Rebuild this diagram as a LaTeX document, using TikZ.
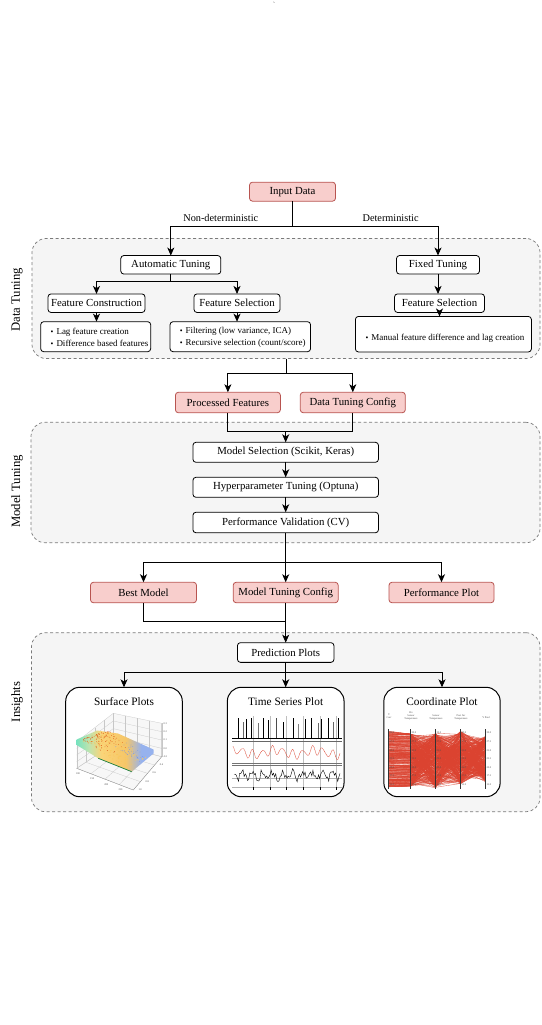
\documentclass[tikz,border=0pt]{standalone}
\usepackage{fontspec}
\setmainfont{Liberation Serif}
\usetikzlibrary{arrows.meta,calc}
\definecolor{pinkfill}{HTML}{F8CECC}
\definecolor{pinkline}{HTML}{B85450}
\definecolor{groupfill}{HTML}{F5F5F5}
\definecolor{groupline}{HTML}{7A7A7A}
\definecolor{plotred}{HTML}{DB4330}
\definecolor{dotorange}{RGB}{225,100,30}
\definecolor{speckle}{RGB}{250,200,90}
\definecolor{bluespk}{RGB}{120,150,230}
\definecolor{edgegreen}{RGB}{25,125,60}
\definecolor{surfA}{RGB}{120,226,190}
\definecolor{surfB}{RGB}{190,228,175}
\definecolor{surfC}{RGB}{250,212,120}
\definecolor{surfD}{RGB}{246,198,104}
\definecolor{surfE}{RGB}{150,178,238}
% the 25bp..75bp band of a declared shading spans the shaded path
\pgfdeclarehorizontalshading{surfshade}{100bp}{color(0bp)=(surfA); color(25bp)=(surfA);
  color(33bp)=(surfB); color(41bp)=(surfC); color(57bp)=(surfD); color(67bp)=(surfE);
  color(100bp)=(surfE)}
\newcommand{\itemdot}{{\fontsize{8}{8}\selectfont\textbullet}\hspace{3pt}}
\begin{document}
\begin{tikzpicture}[x=1pt,y=-1pt,
  every node/.style={inner sep=0pt,outer sep=0pt},
  box/.style={draw=black,fill=white,rounded corners=3pt,line width=0.8pt,
    font=\fontsize{10.8}{12}\selectfont},
  pinkbox/.style={box,draw=pinkline,fill=pinkfill},
  group/.style={draw=groupline,fill=groupfill,dash pattern=on 3pt off 2.5pt,
    rounded corners=14pt,line width=0.7pt},
  sidelabel/.style={rotate=90,font=\fontsize{12.7}{14}\selectfont},
  edgelabel/.style={font=\fontsize{10.3}{12}\selectfont},
  bullettext/.style={align=left,anchor=west,font=\fontsize{9}{12.3}\selectfont},
  plotbox/.style={draw=black,fill=white,rounded corners=14pt,line width=1pt},
  plottitle/.style={font=\fontsize{11.3}{13}\selectfont},
  conn/.style={line width=0.85pt},
  arr/.style={conn,-{Stealth[length=8pt,width=7pt,inset=2.2pt]}},
  tiny/.style={font=\fontsize{2.6}{3}\selectfont,text=black!70},
  gridln/.style={black!22,line width=0.25pt}]

\useasboundingbox (0,0) rectangle (541,1025);
\fill[white] (0,0) rectangle (541,1025);
\node[font=\fontsize{6}{6}\selectfont] (grave) at (274,4) {\textasciigrave};

% ---- stage containers ----
\node[group,minimum width=508pt,minimum height=120pt] (dt) at (286,298.5) {};
\node[group,minimum width=509pt,minimum height=120.4pt] (mt) at (285.5,482.5) {};
\node[group,minimum width=508.5pt,minimum height=179pt] (ins) at (285.75,722.2) {};
\node[sidelabel] (dtl) at (17,300) {Data Tuning};
\node[sidelabel] (mtl) at (17,491.5) {Model Tuning};
\node[sidelabel] (insl) at (17,702) {Insights};

% ---- data tuning ----
\node[pinkbox,minimum width=86pt,minimum height=19pt] (inp) at (292.5,191.7) {Input Data};
\node[edgelabel] (lnd) at (220.8,218.3) {Non-deterministic};
\node[edgelabel] (ldet) at (390.6,218.3) {Deterministic};
\node[box,minimum width=100pt,minimum height=18.5pt] (auto) at (170.8,264.8) {Automatic Tuning};
\node[box,minimum width=83pt,minimum height=18.5pt] (fixed) at (438,264.8) {Fixed Tuning};
\node[box,minimum width=97pt,minimum height=18.5pt] (fc) at (96.5,303.2) {Feature Construction};
\node[box,minimum width=86pt,minimum height=18.5pt] (fsa) at (237,303.2) {Feature Selection};
\node[box,minimum width=90pt,minimum height=18.5pt] (fsf) at (439.5,303.2) {Feature Selection};
\node[box,minimum width=110pt,minimum height=30pt] (b1) at (95.7,336.7) {};
\node[bullettext] (b1t) at ($(b1.west)+(10,0.4)$)
  {\itemdot Lag feature creation\\\itemdot Difference based features};
\node[box,minimum width=140.5pt,minimum height=30pt] (b2) at (240.3,336.7) {};
\node[bullettext] (b2t) at ($(b2.west)+(9.7,0.4)$)
  {\itemdot Filtering (low variance, ICA)\\\itemdot Recursive selection (count/score)};
\node[box,minimum width=176pt,minimum height=35.5pt] (b3) at (443.4,334.2) {};
\node[bullettext] (b3t) at ($(b3.west)+(10.1,4.1)$)
  {\itemdot Manual feature difference and lag creation};

% ---- model tuning ----
\node[pinkbox,minimum width=105pt,minimum height=20.5pt] (pf) at (227.9,402.5) {Processed Features};
\node[pinkbox,minimum width=105pt,minimum height=20.5pt] (dtc) at (352.8,402.5) {Data Tuning Config};
\node[box,minimum width=185.5pt,minimum height=20pt] (ms) at (285.7,452.3) {Model Selection (Scikit, Keras)};
\node[box,minimum width=185.5pt,minimum height=20pt] (ht) at (285.7,487.3) {Hyperparameter Tuning (Optuna)};
\node[box,minimum width=185.5pt,minimum height=20.5pt] (pv) at (285.7,522.5) {Performance Validation (CV)};

% ---- outputs ----
\node[pinkbox,minimum width=106pt,minimum height=20.5pt] (bm) at (143.5,592.5) {Best Model};
\node[pinkbox,minimum width=105pt,minimum height=20.5pt] (mtc) at (285.7,592.5) {Model Tuning Config};
\node[pinkbox,minimum width=105pt,minimum height=20.5pt] (pp) at (441.5,592.5) {Performance Plot};

% ---- insights ----
\node[box,minimum width=96.5pt,minimum height=19.7pt] (pred) at (285.7,652.5) {Prediction Plots};
\node[plotbox,minimum width=116.6pt,minimum height=109.4pt] (surf) at (124,742) {};
\node[plotbox,minimum width=116.7pt,minimum height=109.4pt] (ts) at (285.7,742) {};
\node[plotbox,minimum width=116.3pt,minimum height=109.4pt] (coord) at (442,742) {};
\node[plottitle] (surft) at (124,701.9) {Surface Plots};
\node[plottitle] (tst) at (285.7,701.9) {Time Series Plot};
\node[plottitle] (coordt) at (442,701.9) {Coordinate Plot};

% ---- connectors ----
\coordinate (s1) at (292.5,226.7);
\draw[conn] (inp.south) -- (s1);
\draw[arr] (s1) -| (auto.north);
\draw[arr] (s1) -| (fixed.north);
\coordinate (s2) at (170.8,281.7);
\draw[conn] (auto.south) -- (s2);
\draw[arr] (s2) -| (fc.north);
\draw[arr] (s2) -| (fsa.north);
\draw[arr] (fixed.south) -- (fixed.south |- fsf.north);
\draw[arr] (fc.south) -- (fc.south |- b1.north);
\draw[arr] (fsa.south) -- (fsa.south |- b2.north);
\draw[arr] (fsf.south) -- (fsf.south |- b3.north);

\coordinate (s3) at (286,373);
\draw[conn] (dt.south) -- (s3);
\draw[arr] (s3) -| (pf.north);
\draw[arr] (s3) -| (dtc.north);
\coordinate (m1) at (285.7,431.7);
\draw[conn] (pf.south) |- (m1);
\draw[conn] (dtc.south) |- (m1);
\draw[arr] (m1) -- (ms.north);
\draw[arr] (ms.south) -- (ht.north);
\draw[arr] (ht.south) -- (pv.north);

\coordinate (s4) at (285.7,562.3);
\draw[conn] (pv.south) -- (s4);
\draw[arr] (s4) -| (bm.north);
\draw[arr] (s4) -- (mtc.north);
\draw[arr] (s4) -| (pp.north);
\coordinate (m2) at (285.7,621.7);
\draw[conn] (bm.south) |- (m2);
\draw[arr] (mtc.south) -- (pred.north);

\coordinate (s5) at (285.7,672.3);
\draw[conn] (pred.south) -- (s5);
\draw[arr] (s5) -| (surf.north);
\draw[arr] (s5) -- (ts.north);
\draw[arr] (s5) -| (coord.north);

\pgfmathsetseed{11}

% ---- 3D surface thumbnail ----
\begin{scope}
  \coordinate (pA) at (76.7,741.7);
  \coordinate (pB) at (113.3,713.3);
  \coordinate (pC) at (161.7,723.3);
  \coordinate (pD) at (161.7,756.7);
  \coordinate (pE) at (133.3,790);
  \coordinate (pF) at (76.7,768.3);
  \coordinate (pG) at (113.3,744);
  \fill[black!3] (pA) -- (pB) -- (pC) -- (pD) -- (pE) -- (pF) -- cycle;
  \foreach \t in {0,0.25,0.5,0.75,1}{
    \draw[gridln] ($(pA)!\t!(pF)$) -- ($(pB)!\t!(pG)$);
    \draw[gridln] ($(pA)!\t!(pB)$) -- ($(pF)!\t!(pG)$);
    \draw[gridln] ($(pB)!\t!(pG)$) -- ($(pC)!\t!(pD)$);
    \draw[gridln] ($(pB)!\t!(pC)$) -- ($(pG)!\t!(pD)$);
    \draw[gridln] ($(pF)!\t!(pG)$) -- ($(pE)!\t!(pD)$);
    \draw[gridln] ($(pF)!\t!(pE)$) -- ($(pG)!\t!(pD)$);
  }
  \draw[black!45,line width=0.3pt] (pF) -- (pE) -- (pD) -- (pC);
  \shade[shading=surfshade]
    (76.7,739.5) -- (97,730.5) -- (118,733.5) -- (153.5,749.5) -- (153.5,753.5)
    -- (131.7,771.7) -- (98.3,758.3) -- (76.7,745) -- cycle;
  \foreach \i in {1,...,130}{
    \pgfmathsetmacro\uu{0.1+0.85*rnd}
    \pgfmathsetmacro\vv{0.85*rnd+0.05}
    \pgfmathsetmacro\px{77+\uu*33+\vv*51+\uu*\vv*(-7.5)}
    \pgfmathsetmacro\py{741-\uu*11+\vv*30+\uu*\vv*(1)}
    \fill[speckle] (\px,\py) circle (0.5);
  }
  \foreach \i in {1,...,35}{
    \pgfmathsetmacro\uu{0.6+0.4*rnd}
    \pgfmathsetmacro\vv{0.4+0.55*rnd}
    \pgfmathsetmacro\px{77+\uu*33+\vv*51+\uu*\vv*(-7.5)}
    \pgfmathsetmacro\py{741-\uu*11+\vv*30+\uu*\vv*(1)}
    \fill[bluespk] (\px,\py) circle (0.4);
  }
  \foreach \i in {1,...,110}{
    \pgfmathsetmacro\uu{0.15+0.8*rnd}
    \pgfmathsetmacro\vv{0.6*rnd*rnd}
    \pgfmathsetmacro\px{77+\uu*33+\vv*51+\uu*\vv*(-7.5)}
    \pgfmathsetmacro\py{741-\uu*11+\vv*30+\uu*\vv*(1)}
    \fill[dotorange] (\px,\py) circle (0.42);
  }
  \draw[edgegreen,line width=0.7pt] (98.3,758.3) -- (131.7,771.7);
  \foreach \t/\lab in {0.05/100,0.3/150,0.55/200,0.8/250}
    \node[tiny] at ($(pF)!\t!(pE)+(-1.5,4)$) {\lab};
  \foreach \t/\lab in {0.1/1.0,0.35/0.8,0.6/0.6,0.85/0.4}
    \node[tiny] at ($(pE)!\t!(pD)+(4,3)$) {\lab};
  \foreach \t/\lab in {0/0.3,0.25/0.2,0.5/0.1,0.75/0.0,1/-0.1}
    \node[tiny] at ($(pC)!\t!(pD)+(3.5,0)$) {\lab};
\end{scope}

% ---- time series thumbnail ----
\begin{scope}
  \foreach \gx in {253,269.7,286.3,303,319.7,336.3}
    \draw[black!25,line width=0.3pt] (\gx,716) -- (\gx,789);
  \foreach \sx/\sy/\sc in {238/718/black,243/722/black!60,246.3/719/black,251.3/718/black,
      258/723/black!55,263/718/black,268/720/black,276.3/718/black!70,283/722/black,
      293/718/black,298/724/black!50,304.7/719/black,311.3/718/black,318/723/black!60,
      321.3/719/black,328/718/black,333/722/black!60,338/718/black}
    \draw[\sc,line width=0.3pt] (\sx,738.3) -- (\sx,\sy);
  \draw[black,line width=0.9pt] (232,738.3) -- (341.6,738.3);
  \draw[black!60,line width=0.4pt] (232,740.7) -- (341.6,740.7);
  \draw[plotred,line width=0.45pt,dash pattern=on 0.7pt off 0.5pt]
    plot[domain=3:110,samples=160]
    ({230+\x},{752.5-4*sin(36*\x)-2.2*sin(9*\x+40)-1.2*sin(53*\x)});
  \draw[black!55,line width=0.4pt] (232,763.4) -- (341.6,763.4);
  \draw[black!55,line width=0.4pt] (232,765.6) -- (341.6,765.6);
  \draw[black!30,line width=0.3pt] (232,778.3) -- (341.6,778.3);
  \draw[black!30,line width=0.3pt] (232,787) -- (341.6,787);
  \draw[black,line width=0.4pt]
    plot[domain=4:110,samples=95] ({230+\x},{775.5-3.5*sin(36*\x)+7*(rnd-0.5)});
  \foreach \gx in {253,269.7,286.3,303,319.7,336.3}
    \draw[black,line width=0.3pt] (\gx,787) -- (\gx,789.5);
\end{scope}

% ---- parallel coordinates thumbnail ----
\begin{scope}
  \foreach \i in {1,...,320}{
    \pgfmathsetmacro\ya{731+56*rnd}
    \pgfmathsetmacro\yb{max(734,min(786,\ya+3*(rnd-0.5)))}
    \pgfmathsetmacro\yc{733+55*rnd}
    \pgfmathsetmacro\yd{731+53*rnd}
    \pgfmathsetmacro\ye{736+46*rnd}
    \draw[plotred,line width=0.3pt,opacity=0.9]
      (388.5,\ya) -- (410.5,\yb) -- (435.5,\yc) -- (460.5,\yd) -- (485.5,\ye);
  }
  \foreach \ax in {388.5,410.5,435.5,460.5,485.5}{
    \draw[black!80,line width=0.35pt] (\ax,729) -- (\ax,789);
    \foreach \k/\lab in {0/30.0,1/27.5,2/25.0,3/22.5,4/20.0,5/17.5,6/15.0}
      \node[tiny,anchor=west] at (\ax+1,{733+\k*8.6}) {\lab};
  }
  \node[tiny,align=center] (h1) at (389,716) {Y\\Curr};
  \node[tiny,align=center] (h2) at (411,716) {Pre\\Sensor\\Temperature};
  \node[tiny,align=center] (h3) at (436,717) {Sensor\\Temperature};
  \node[tiny,align=center] (h4) at (461,717) {Post Air\\Temperature};
  \node[tiny,align=center] (h5) at (486,718) {Y Pred};
\end{scope}

\end{tikzpicture}
\end{document}
